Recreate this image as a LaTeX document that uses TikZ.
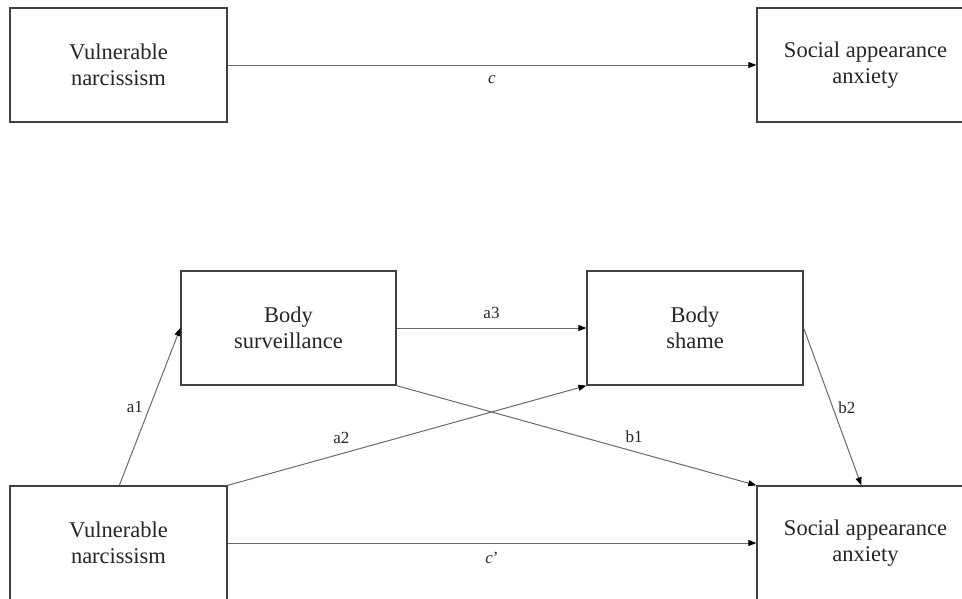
\documentclass[tikz,border=0pt]{standalone}
\usepackage{fontspec}
\setmainfont{Liberation Serif}
\usetikzlibrary{arrows.meta}
\definecolor{boxline}{HTML}{404040}
\definecolor{conline}{HTML}{6A6A6A}
\tikzset{
  varbox/.style={draw=boxline, line width=1.3pt, rectangle, minimum height=114pt, inner sep=0pt,
    align=center, font=\fontsize{22.5}{26}\selectfont, text=black!85},
  conn/.style={draw=conline, line width=1pt, -{Triangle[length=8pt,width=6pt,fill=black,color=black]}},
  lab/.style={font=\fontsize{17}{20}\selectfont, text=black!85, inner sep=0pt}
}
\begin{document}
\begin{tikzpicture}[x=1pt,y=-1pt]
\useasboundingbox (0,0) rectangle (962,598);
\clip (0,0) rectangle (962,598);
\fill[white] (0,0) rectangle (962,598);
% top model
\node[varbox, minimum width=217pt] (vn1) at (118.5,65) {Vulnerable\\narcissism};
\node[varbox, minimum width=217pt] (saa1) at (865.5,65) {Social appearance\\anxiety};
\draw[conn] (vn1.east) -- node[lab, midway, yshift=-15pt] {\textit{c}} (saa1.west);
% bottom model
\node[varbox, minimum width=215pt] (bs) at (288.5,328) {Body\\surveillance};
\node[varbox, minimum width=216pt] (sh) at (695,328) {Body\\shame};
\node[varbox, minimum width=217pt] (vn2) at (118.5,543) {Vulnerable\\narcissism};
\node[varbox, minimum width=217pt] (saa2) at (865.5,543) {Social appearance\\anxiety};
\coordinate (a1s) at ([xshift=110pt]vn2.north west);
\draw[conn] (a1s) -- node[lab, pos=0.5, xshift=-15pt] {a1} (bs.west);
\draw[conn] (vn2.north east) -- node[lab, pos=0.317, yshift=16pt] {a2} (sh.south west);
\draw[conn] (bs.east) -- node[lab, midway, yshift=15pt] {a3} (sh.west);
\draw[conn] (bs.south east) -- node[lab, pos=0.66, yshift=15pt] {b1} (saa2.north west);
\coordinate (b2e) at ([xshift=105pt]saa2.north west);
\draw[conn] (sh.east) -- node[lab, pos=0.506, xshift=14pt] {b2} (b2e);
\draw[conn] (vn2.east) -- node[lab, midway, yshift=-15pt] {\textit{c}’} (saa2.west);
\end{tikzpicture}
\end{document}
